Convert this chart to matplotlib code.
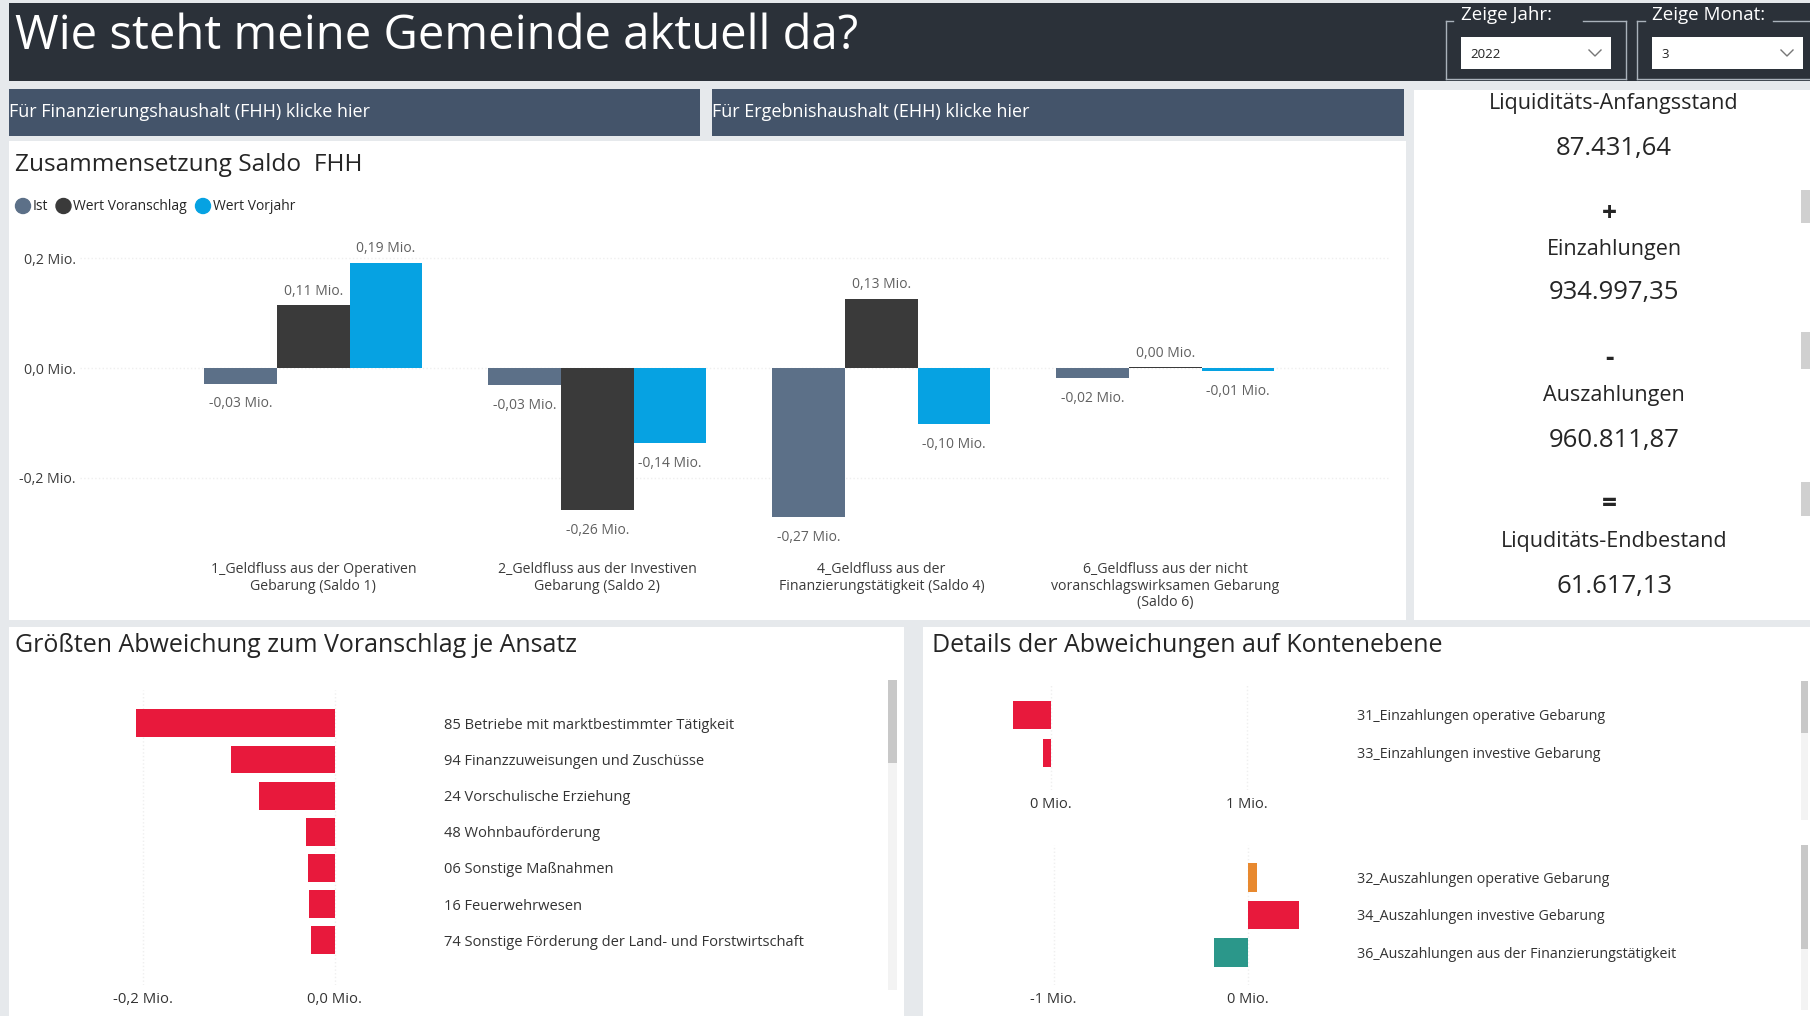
import matplotlib
matplotlib.use("Agg")
import matplotlib.pyplot as plt
from matplotlib.patches import Rectangle, Circle
from matplotlib.ticker import FuncFormatter

plt.rcParams['font.family'] = ['Open Sans', 'DejaVu Sans']

# ---------------- data ----------------
saldo_categories = [
    "1_Geldfluss aus der Operativen\nGebarung (Saldo 1)",
    "2_Geldfluss aus der Investiven\nGebarung (Saldo 2)",
    "4_Geldfluss aus der\nFinanzierungstätigkeit (Saldo 4)",
    "6_Geldfluss aus der nicht\nvoranschlagswirksamen Gebarung\n(Saldo 6)",
]
saldo_series = ["Ist", "Wert Voranschlag", "Wert Vorjahr"]
ist_values = [-0.029, -0.031, -0.272, -0.019]
voranschlag_values = [0.114, -0.259, 0.126, 0.001]
vorjahr_values = [0.192, -0.137, -0.103, -0.006]
saldo_yticks = [-0.2, 0.0, 0.2]

ansatz_labels = [
    "85 Betriebe mit marktbestimmter Tätigkeit",
    "94 Finanzzuweisungen und Zuschüsse",
    "24 Vorschulische Erziehung",
    "48 Wohnbauförderung",
    "06 Sonstige Maßnahmen",
    "16 Feuerwehrwesen",
    "74 Sonstige Förderung der Land- und Forstwirtschaft",
]
ansatz_values = [-0.208, -0.109, -0.079, -0.030, -0.028, -0.027, -0.025]
ansatz_xticks = [-0.2, 0.0]

einz_labels = ["31_Einzahlungen operative Gebarung", "33_Einzahlungen investive Gebarung"]
einz_values = [-0.193, -0.038]
einz_xticks = [0, 1]

ausz_labels = ["32_Auszahlungen operative Gebarung",
               "34_Auszahlungen investive Gebarung",
               "36_Auszahlungen aus der Finanzierungstätigkeit"]
ausz_values = [0.050, 0.266, -0.172]
ausz_xticks = [-1, 0]

liq_labels = ["Liquiditäts-Anfangsstand", "Einzahlungen", "Auszahlungen", "Liquditäts-Endbestand"]
liq_values = [87431.64, 934997.35, 960811.87, 61617.13]
liq_operators = ["+", "-", "="]

year_value = "2022"
month_value = "3"

# ---------------- styles ----------------
C_BG = "#e6e9ec"
C_HEADER = "#2b3139"
C_BUTTON = "#44546a"
C_IST = "#5c7088"
C_VA = "#3a3a3a"
C_VJ = "#06a2e2"
C_RED = "#e8193c"
C_ORANGE = "#e8892f"
C_TEAL = "#2b978a"
C_TEXT = "#252525"
C_LABEL = "#606060"
C_GRID = "#efefef"

W, H = 1810, 1016
fig = plt.figure(figsize=(W / 100, H / 100), dpi=100)
fig.patch.set_facecolor(C_BG)


def px_axes(x0, y0, x1, y1, z=1):
    ax = fig.add_axes([x0 / W, 1 - y1 / H, (x1 - x0) / W, (y1 - y0) / H], zorder=z)
    ax.patch.set_alpha(0)
    return ax


def mio(v, d):
    s = f"{v:.{d}f}"
    if s.startswith("-") and float(s) == 0:
        s = s[1:]
    return s.replace(".", ",") + " Mio."


def de_num(v):
    return f"{v:,.2f}".replace(",", "X").replace(".", ",").replace("X", ".")


bg = px_axes(0, 0, W, H, z=0)
bg.set_xlim(0, W)
bg.set_ylim(H, 0)
bg.axis("off")


def rect(x0, y0, x1, y1, color, **kw):
    bg.add_patch(Rectangle((x0, y0), x1 - x0, y1 - y0, facecolor=color, edgecolor="none", **kw))


# header
rect(9, 3, W, 81, C_HEADER)
bg.text(15, 36, "Wie steht meine Gemeinde aktuell da?", color="white", fontsize=34,
        va="center", ha="left")


# slicers
def slicer(x0, x1, gap0, gap1, label, value):
    lc = "#aab2bb"
    y0, y1 = 21, 79
    bg.plot([x0, x0], [y0, y1], color=lc, lw=1)
    bg.plot([x0, x1], [y1, y1], color=lc, lw=1)
    bg.plot([x1, x1], [y0, y1], color=lc, lw=1)
    bg.plot([x0, gap0], [y0, y0], color=lc, lw=1)
    bg.plot([gap1, x1], [y0, y0], color=lc, lw=1)
    bg.text(x0 + 15, 15, label, color="white", fontsize=13.5, va="center", ha="left")
    rect(x0 + 15, 37, x1 - 15, 69, "white")
    bg.text(x0 + 24, 54, value, color="#222222", fontsize=9.5, va="center", ha="left")
    cx = x1 - 31
    bg.plot([cx - 6, cx, cx + 6], [50, 56, 50], color="#777777", lw=1)


slicer(1446, 1626, 1453, 1583, "Zeige Jahr:", year_value)
slicer(1637, 1818, 1645, 1773, "Zeige Monat:", month_value)

# buttons
rect(9, 89, 700, 136, C_BUTTON)
rect(712, 89, 1404, 136, C_BUTTON)
bg.text(9, 112, "Für Finanzierungshaushalt (FHH) klicke hier", color="white", fontsize=13,
        va="center", ha="left")
bg.text(712, 112, "Für Ergebnishaushalt (EHH) klicke hier", color="white", fontsize=13,
        va="center", ha="left")

# panels
rect(9, 141, 1406, 620, "white")
rect(1414, 90, W, 620, "white")
rect(9, 627, 904, H, "white")
rect(923, 627, W, H, "white")

# ---------------- Zusammensetzung Saldo FHH ----------------
bg.text(15, 165, "Zusammensetzung Saldo  FHH", color=C_TEXT, fontsize=17.6, va="center", ha="left")
series_colors = [C_IST, C_VA, C_VJ]
legend_x = [23, 63.5, 203]
for lx, name, col in zip(legend_x, saldo_series, series_colors):
    bg.add_patch(Circle((lx, 206), 7.5, color=col))
    bg.text(lx + 9.5, 206, name, color=C_TEXT, fontsize=10, va="center", ha="left")

ax1_px = (80, 220, 1390, 555)
zero_px, unit_px = 368, 548.5
cat0_px, cat_step_px = 313.4, 284.0
ax1 = px_axes(*ax1_px)
ax1.set_ylim(-(ax1_px[3] - zero_px) / unit_px, (zero_px - ax1_px[1]) / unit_px)
ax1.set_xlim(-(cat0_px - ax1_px[0]) / cat_step_px,
             (len(saldo_categories) - 1) + (ax1_px[2] - (cat0_px + cat_step_px * (len(saldo_categories) - 1))) / cat_step_px)
bw = 0.256
xs = list(range(len(saldo_categories)))
for k, (vals, col) in enumerate(zip([ist_values, voranschlag_values, vorjahr_values], series_colors)):
    pos = [x + (k - 1) * bw for x in xs]
    ax1.bar(pos, vals, width=bw, color=col, zorder=3)
    for p, v in zip(pos, vals):
        if v >= 0:
            ax1.annotate(mio(v, 2), (p, v), xytext=(0, 5), textcoords="offset points",
                         ha="center", va="bottom", fontsize=10, color=C_LABEL)
        else:
            ax1.annotate(mio(v, 2), (p, v), xytext=(0, -9), textcoords="offset points",
                         ha="center", va="top", fontsize=10, color=C_LABEL)
ax1.set_yticks(saldo_yticks)
ax1.yaxis.set_major_formatter(FuncFormatter(lambda v, p: mio(v, 1)))
ax1.set_xticks(xs)
ax1.set_xticklabels(saldo_categories)
for lbl in ax1.get_xticklabels():
    lbl.set_linespacing(1.15)
ax1.tick_params(axis="both", length=0, labelsize=10.2, labelcolor="#3b3b3b")
ax1.tick_params(axis="y", pad=3)
ax1.tick_params(axis="x", pad=5)
ax1.grid(axis="y", color=C_GRID, linestyle=":", lw=1, zorder=0)
for s in ax1.spines.values():
    s.set_visible(False)

# ---------------- Liquidität panel ----------------
cx = 1614
liq_y_label = [103, 249, 395, 541]
liq_y_value = [148, 293, 440, 586]
op_y = [214, 359, 505]
for lab, val, yl, yv in zip(liq_labels, liq_values, liq_y_label, liq_y_value):
    bg.text(cx, yl, lab, color=C_TEXT, fontsize=15.5, ha="center", va="center")
    bg.text(cx, yv, de_num(val), color=C_TEXT, fontsize=18.5, ha="center", va="center")
for op, yo in zip(liq_operators, op_y):
    bg.text(cx - 5, yo, op, color=C_TEXT, fontsize=19, ha="center", va="center", fontweight="bold")
for y0, y1 in [(190, 223), (332, 369), (482, 516)]:
    rect(1801, y0, W, y1, "#d0d0d0")

# ---------------- Größten Abweichung ----------------
bg.text(15, 646, "Größten Abweichung zum Voranschlag je Ansatz", color=C_TEXT, fontsize=18,
        va="center", ha="left")
ax2_px = (100, 690, 440, 985)
a_zero, a_unit = 334.9, 957.5
a_c0, a_step = 723.3, 36.17
ax2 = px_axes(*ax2_px)
ax2.set_xlim(-(a_zero - ax2_px[0]) / a_unit, (ax2_px[2] - a_zero) / a_unit)
ax2.set_ylim((ax2_px[3] - a_c0) / a_step, (ax2_px[1] - a_c0) / a_step)
ys = list(range(len(ansatz_labels)))
ax2.barh(ys, ansatz_values, height=0.77, color=C_RED, zorder=3)
ax2.yaxis.tick_right()
ax2.set_yticks(ys)
ax2.set_yticklabels(ansatz_labels)
ax2.set_xticks(ansatz_xticks)
ax2.xaxis.set_major_formatter(FuncFormatter(lambda v, p: mio(v, 1)))
ax2.tick_params(axis="both", length=0, labelsize=10.5, labelcolor="#333333")
ax2.tick_params(axis="y", pad=3)
ax2.tick_params(axis="x", pad=5, labelsize=10.7)
ax2.grid(axis="x", color=C_GRID, linestyle=":", lw=1, zorder=0)
for s in ax2.spines.values():
    s.set_visible(False)
rect(888, 680, 897, 990, "#f3f3f3")
rect(888, 680, 897, 763, "#c8c8c8")

# ---------------- Details der Abweichungen ----------------
bg.text(932, 646, "Details der Abweichungen auf Kontenebene", color=C_TEXT, fontsize=18,
        va="center", ha="left")


def detail_axes(box, zero, unit, c0, step, labels, values, colors, xticks):
    ax = px_axes(*box)
    ax.set_xlim(-(zero - box[0]) / unit, (box[2] - zero) / unit)
    ax.set_ylim((box[3] - c0) / step, (box[1] - c0) / step)
    yy = list(range(len(labels)))
    ax.barh(yy, values, height=0.75, color=colors, zorder=3)
    ax.yaxis.tick_right()
    ax.set_yticks(yy)
    ax.set_yticklabels(labels)
    ax.set_xticks(xticks)
    ax.xaxis.set_major_formatter(FuncFormatter(lambda v, p: mio(v, 0)))
    ax.tick_params(axis="both", length=0, labelsize=10.3, labelcolor="#333333")
    ax.tick_params(axis="y", pad=2)
    ax.tick_params(axis="x", pad=5, labelsize=10.5)
    ax.grid(axis="x", color=C_GRID, linestyle=":", lw=1, zorder=0)
    for s in ax.spines.values():
        s.set_visible(False)
    return ax


detail_axes((960, 685, 1354, 790), 1050.6, 196.4, 715, 38, einz_labels, einz_values,
            [C_RED, C_RED], einz_xticks)
detail_axes((960, 845, 1354, 985), 1247.5, 194.0, 877.5, 37.5, ausz_labels, ausz_values,
            [C_ORANGE, C_RED, C_TEAL], ausz_xticks)
rect(1801, 681, 1808, 820, "#f3f3f3")
rect(1801, 681, 1808, 733, "#c8c8c8")
rect(1801, 845, 1808, 1010, "#f3f3f3")
rect(1801, 845, 1808, 949, "#c8c8c8")

fig.savefig("out.png", dpi=100, facecolor=fig.get_facecolor())
